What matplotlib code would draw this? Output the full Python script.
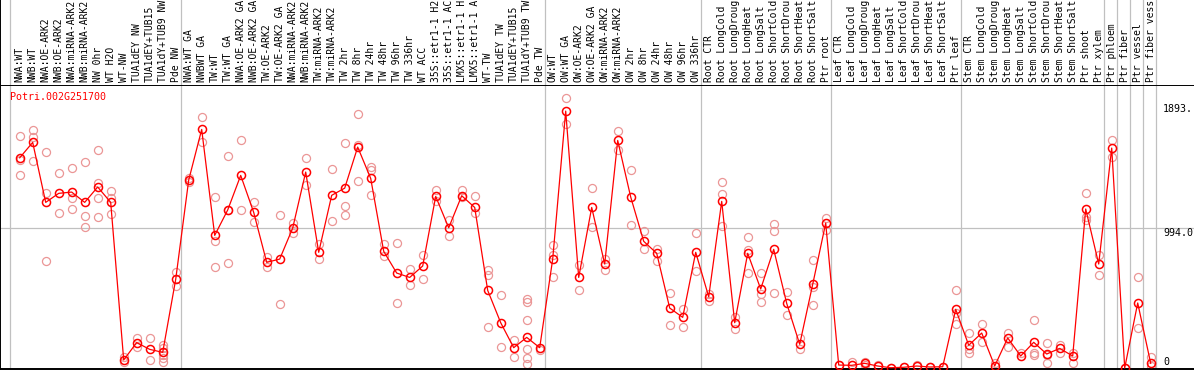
"""eFP-style expression profile for Potri.002G251700 across poplar samples."""
import matplotlib
matplotlib.use("Agg")
import matplotlib.pyplot as plt
from matplotlib.transforms import blended_transform_factory

GENE = "Potri.002G251700"

SAMPLES = [
    "NWA:WT", "NWB:WT", "NWA:OE-ARK2", "NWB:OE-ARK2", "NWA:miRNA-ARK2",
    "NWB:miRNA-ARK2", "NW 0hr", "WT H2O", "WT-NW", "TUA1dEY NW",
    "TUA1dEY+TUB15", "TUA1dY+TUB9 NW", "Pde NW",
    "NWA:WT GA", "NWBWT GA", "TW:WT", "TW:WT GA", "NWA:OE-ARK2 GA",
    "NWB:OE-ARK2 GA", "TW:OE-ARK2", "TW:OE-ARK2 GA", "NWA:miRNA-ARK2",
    "NWB:miRNA-ARK2", "TW:miRNA-ARK2", "TW:miRNA-ARK2", "TW 2hr", "TW 8hr",
    "TW 24hr", "TW 48hr", "TW 96hr", "TW 336hr", "WT ACC", "35S::etr1-1 H2",
    "35S::etr1-1 AC", "LMX5::etr1-1 H", "LMX5::etr1-1 A", "WT-TW",
    "TUA1dEY TW", "TUA1dEY+TUB15", "TUA1dY+TUB9 TW", "Pde TW",
    "OW:WT", "OW:WT GA", "OW:OE-ARK2", "OW:OE-ARK2 GA", "OW:miRNA-ARK2",
    "OW:miRNA-ARK2", "OW 2hr", "OW 8hr", "OW 24hr", "OW 48hr", "OW 96hr",
    "OW 336hr",
    "Root CTR", "Root LongCold", "Root LongDroug", "Root LongHeat",
    "Root LongSalt", "Root ShortCold", "Root ShortDrou", "Root ShortHeat",
    "Root ShortSalt", "Ptr root",
    "Leaf CTR", "Leaf LongCold", "Leaf LongDroug", "Leaf LongHeat",
    "Leaf LongSalt", "Leaf ShortCold", "Leaf ShortDrou", "Leaf ShortHeat",
    "Leaf ShortSalt", "Ptr leaf",
    "Stem CTR", "Stem LongCold", "Stem LongDroug", "Stem LongHeat",
    "Stem LongSalt", "Stem ShortCold", "Stem ShortDrou", "Stem ShortHeat",
    "Stem ShortSalt", "Ptr shoot",
    "Ptr xylem", "Ptr phloem", "Ptr fiber", "Ptr vessel", "Ptr fiber vess",
]

MEANS = [
    1490, 1599, 1174, 1238, 1247, 1174, 1283, 1174, 57, 180, 132, 111, 628,
    1332, 1691, 940, 1120, 1365, 1103, 749, 772, 992, 1389, 820, 1224, 1275,
    1566, 1344, 827, 673, 642, 723, 1216, 994, 1221, 1138, 550, 321, 144,
    217, 144,
    772, 1821, 642, 1138, 737, 1613, 1212, 898, 813, 425, 359, 820,
    505, 1181, 321, 813, 560, 841, 458, 168, 593, 1027,
    21, 19, 33, 14, 2, 5, 14, 7, 9, 416,
    161, 248, 14, 213, 85, 182, 99, 139, 85, 1127,
    737, 1559, 0, 461, 33,
]

REPLICATES = [
    [1642, 1474, 1365], [1684, 1639, 1464], [1528, 1238, 756], [1379, 1096],
    [1415, 1202, 1124], [1457, 1075, 1001], [1545, 1309, 1202, 1068],
    [1254, 1202, 1089], [80, 45], [210, 151], [210, 57],
    [163, 139, 92, 68, 45], [678, 581],
    [1320, 1345], [1776, 1599], [1209, 902, 713], [1500, 1117, 742],
    [1613, 1117], [1176, 1032], [784, 718], [1082, 451], [1025, 959],
    [1486, 1294], [876, 772], [1410, 1042], [1592, 1148, 1084],
    [1800, 1580, 1325], [1422, 1401, 1224], [876, 796], [883, 458],
    [699, 586], [801, 628], [1261, 1181], [1049, 933], [1261, 1214],
    [1221, 1096], [694, 661, 293], [515, 151], [198, 76],
    [491, 465, 340, 137, 71, 28], [128],
    [872, 801, 642], [1911, 1727], [730, 550], [1273, 1001], [772, 694],
    [1677, 1542], [1403, 1013], [971, 843], [846, 761], [531, 302],
    [418, 288], [954, 685],
    [524, 472], [1316, 1231, 1004], [361, 274], [928, 836, 673],
    [673, 522, 468], [1020, 968, 529], [536, 376], [210, 137],
    [765, 576, 446], [1061, 978],
    [21], [40], [45, 21], [21], [2], [5], [21], [7], [9], [550, 387, 309],
    [246, 132, 104], [309, 184], [33], [250, 151], [104], [340, 109, 92],
    [175, 92, 38], [163, 104], [104, 38], [1238, 1072, 1049],
    [801, 659], [1616, 1498], [0], [642, 281], [80, 14],
]

# group separators sit just right of these sample indices
SEPARATORS = [-1.13, 12, 40, 52, 62, 72, 83, 84, 85, 86, 87]
Y_MAX, Y_MAX_LABEL = 1893.0, "1893."
Y_MID, Y_MID_LABEL = 994.0, "994.0"

RED = "#ff0000"
PINK = "#eb9696"
GRID = "#c0c0c0"
MONO = "DejaVu Sans Mono"

W, H = 1194, 370
HEADER = 85

fig = plt.figure(figsize=(W / 100, H / 100), dpi=100, facecolor="white")
ax = fig.add_axes([0, 1 / H, 1, (H - HEADER - 1) / H])
hx = fig.add_axes([0, (H - HEADER) / H, 1, HEADER / H], sharex=ax)

x = list(range(len(SAMPLES)))
ax.set_xlim(-1.515, 90.33)
ax.set_ylim(-7.1, 2006)

# gridlines
for s in SEPARATORS:
    ax.axvline(s + 0.385, color=GRID, lw=0.9, zorder=0)
    hx.axvline(s + 0.385, color=GRID, lw=0.9, zorder=0)
ax.axhline(Y_MID, color=GRID, lw=0.9, zorder=0)

# replicates, then the mean line
for xi, reps in zip(x, REPLICATES):
    ax.plot([xi] * len(reps), reps, "o", ms=5.8, mfc="none", mec=PINK,
            mew=0.9, clip_on=False, zorder=2)
ax.plot(x, MEANS, "-", color=RED, lw=0.9, zorder=3)
ax.plot(x, MEANS, "o", ms=5.8, mfc="none", mec=RED, mew=1.1,
        clip_on=False, zorder=4)

for a in (ax, hx):
    a.set_xticks([])
    a.set_yticks([])
    for side in ("top", "right", "bottom"):
        a.spines[side].set_visible(False)
    a.spines["left"].set_color("black")
    a.spines["left"].set_linewidth(1.4)
ax.spines["top"].set_visible(True)
ax.spines["top"].set_linewidth(1.4)
ax.spines["bottom"].set_visible(True)
ax.spines["bottom"].set_linewidth(1.4)

# rotated sample labels in the header strip
hx.set_ylim(0, 1)
for xi, name in zip(x, SAMPLES):
    hx.text(xi, 3 / HEADER, name, rotation=90, ha="center", va="bottom",
            fontsize=7.0, family=MONO, color="black")

ax.text(10 / W, (H - 1 - 97) / (H - HEADER - 1), GENE, transform=ax.transAxes,
        ha="left", va="center", fontsize=7.2, family=MONO, color=RED)

tr = blended_transform_factory(ax.transAxes, ax.transData)
lx = 1163 / W
ax.text(lx, Y_MAX - 25, Y_MAX_LABEL, transform=tr, ha="left", va="top",
        fontsize=7.2, family=MONO, color="black")
ax.text(lx, Y_MID - 5, Y_MID_LABEL, transform=tr, ha="left", va="top",
        fontsize=7.2, family=MONO, color="black")
ax.text(lx, 5, "0", transform=tr, ha="left", va="bottom",
        fontsize=7.2, family=MONO, color="black")

fig.savefig("out.png", dpi=100, facecolor="white")
